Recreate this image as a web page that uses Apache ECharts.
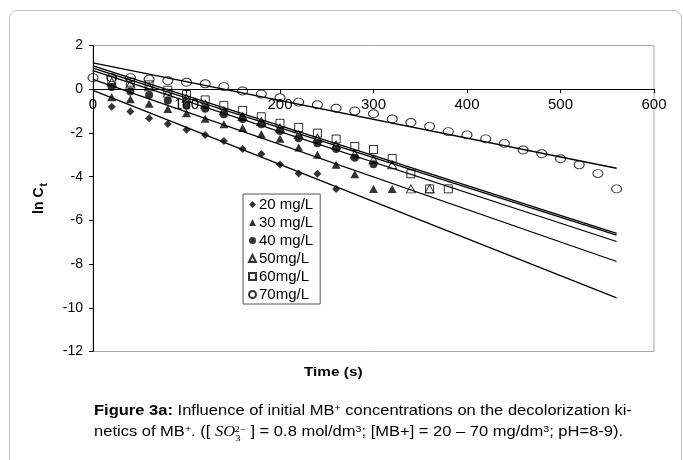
<!DOCTYPE html>
<html>
<head>
<meta charset="utf-8">
<script src="https://cdn.jsdelivr.net/npm/echarts@6/dist/echarts.min.js"></script>
<style>html,body{margin:0;padding:0;background:#fff;}#c{width:683px;height:460px;}</style>
</head>
<body>
<div id="c"></div>
<script>
// Time points (s)
const times = [0,20,40,60,80,100,120,140,160,180,200,220,240,260,280,300,320,340,360,380,400,420,440,460,480,500,520,540,560];
const xTicks = [0,100,200,300,400,500,600];
const yTicks = [-12,-10,-8,-6,-4,-2,0,2];

const seriesNames = ['20 mg/L','30 mg/L','40 mg/L','50mg/L','60mg/L','70mg/L'];
// ln Ct values, starting at t = 20 s (70 mg/L starts at t = 0)
const ln20 = [-0.80,-1.02,-1.33,-1.59,-1.86,-2.10,-2.37,-2.73,-2.96,-3.44,-3.86,-3.87,-4.56];
const ln30 = [-0.37,-0.46,-0.67,-0.91,-1.10,-1.35,-1.60,-1.78,-2.06,-2.27,-2.67,-3.00,-3.46,-3.89,-4.57,-4.57];
const ln40 = [0.10,-0.11,-0.26,-0.52,-0.76,-0.89,-1.14,-1.36,-1.60,-1.91,-2.24,-2.47,-2.73,-3.13,-3.43];
const ln50 = [0.33,0.24,0.11,-0.18,-0.41,-0.69,-0.99,-1.25,-1.48,-1.78,-2.09,-2.24,-2.55,-2.97,-3.23,-3.46,-4.56,-4.56];
const ln60 = [0.42,0.32,0.20,-0.05,-0.24,-0.49,-0.74,-0.97,-1.26,-1.56,-1.75,-2.01,-2.28,-2.62,-2.76,-3.17,-3.87,-4.56,-4.56];
const ln70 = [0.53,0.53,0.53,0.46,0.39,0.32,0.25,0.12,-0.08,-0.22,-0.39,-0.59,-0.71,-0.87,-1.00,-1.12,-1.36,-1.52,-1.70,-1.94,-2.09,-2.27,-2.48,-2.78,-2.95,-3.18,-3.46,-3.86,-4.56];
const startTimes = [20,20,20,20,20,0];

// Linear fit lines (intercept, slope), drawn over 0..560 s
const fitIntercepts = [-0.05,0.45,0.85,0.96,1.07,1.20];
const fitSlopes = [-0.01696,-0.01488,-0.01396,-0.01364,-0.01368,-0.0086];
const fitRange = [0,560];

const symbols = ['diamond','triangle','circle','triangle','rect','circle'];
const filled = [true,true,true,false,false,false];
const symSizes = [[8,8],[9,8],[8,8],[9,8],[8,8],[10,8]];

const allValues = [ln20,ln30,ln40,ln50,ln60,ln70];

function pairs(vals, t0){
  const i0 = times.indexOf(t0);
  return vals.map((v,i)=>[times[i0+i], v]);
}

const series = [];
for(let k=0;k<6;k++){
  series.push({
    type:'line', name:'fit'+k, silent:true, z:1,
    data: fitRange.map(t=>[t, fitIntercepts[k] + fitSlopes[k]*t]),
    showSymbol:false, symbol:'none',
    lineStyle:{color:'#000', width:1.3},
    animation:false
  });
}
for(let k=0;k<6;k++){
  series.push({
    type:'scatter', name:seriesNames[k], z:3,
    data: pairs(allValues[k], startTimes[k]),
    symbol: symbols[k], symbolSize: symSizes[k],
    itemStyle: filled[k] ? {color:'#000'} : {color:'rgba(255,255,255,0)', borderColor:'#000', borderWidth:1},
    animation:false
  });
}

const GRID = {left:93, top:45.5, width:561, height:306};
const yMin = yTicks[0], yMax = yTicks[yTicks.length-1];
// place the x axis where y = 0 (axis crosses at zero)
const xAxisOffset = -(0 - yMin) / (yMax - yMin) * GRID.height;

const chart = echarts.init(document.getElementById('c'), null, {renderer:'canvas'});
const FONT = 'Liberation Sans, Arial, sans-serif';
chart.setOption({
  backgroundColor:'#fff',
  animation:false,
  textStyle:{fontFamily:FONT},
  grid:Object.assign({show:true, borderColor:'#a8a8a8', borderWidth:1}, GRID),
  xAxis:{
    type:'value', min:xTicks[0], max:xTicks[xTicks.length-1], interval:100,
    position:'bottom', offset:xAxisOffset,
    axisLine:{onZero:false, lineStyle:{color:'#000', width:1}},
    axisTick:{show:true, length:4, lineStyle:{color:'#000'}},
    axisLabel:{color:'#000', fontSize:15, fontFamily:FONT, margin:8},
    splitLine:{show:false}
  },
  yAxis:{
    type:'value', min:yMin, max:yMax, interval:2,
    axisLine:{show:true, onZero:false, lineStyle:{color:'#000', width:1}},
    axisTick:{show:true, length:4, lineStyle:{color:'#000'}},
    axisLabel:{color:'#000', fontSize:14, fontFamily:FONT, margin:10},
    splitLine:{show:false},
    name:'{a|ln C}{b|t}', nameLocation:'middle', nameGap:44,
    nameTextStyle:{
      rich:{
        a:{fontSize:14, fontWeight:'bold', color:'#000', fontFamily:FONT, lineHeight:20},
        b:{fontSize:10, fontWeight:'bold', color:'#000', fontFamily:FONT, verticalAlign:'bottom', lineHeight:20, padding:[0,0,0,1]}
      }
    }
  },
  legend:{
    orient:'vertical', left:243, top:194,
    data:seriesNames,
    itemWidth:7, itemHeight:7, itemGap:3,
    padding:[3,7,2,5],
    borderColor:'#555', borderWidth:1, backgroundColor:'#fff',
    textStyle:{fontSize:15, color:'#000', fontFamily:FONT, padding:[0,0,0,-2]}
  },
  graphic:[
    {type:'rect', shape:{x:9.5, y:10.5, width:672, height:480, r:8}, style:{fill:'none', stroke:'#c0c0c0', lineWidth:1}, z:0, silent:true},
    {type:'text', x:304, y:366, scaleX:1.18, style:{text:'Time (s)', font:'bold 13px Liberation Sans, Arial, sans-serif', fill:'#000'}},
    {type:'text', x:94, y:401, scaleX:1.18, style:{
      text:'{b|Figure 3a:}{n| Influence of initial MB}{sup|+}{n| concentrations on the decolorization ki-}\n{n|netics of MB}{sup|+}{n|. ([ }{it|SO}{sub|3}{sup2|2−}{n| ] = 0.8 mol/dm}{sup|3}{n|; [MB+] = 20 – 70 mg/dm}{sup|3}{n|; pH=8-9).}',
      rich:{
        b:{font:'bold 14px Liberation Sans, Arial, sans-serif', fill:'#000', lineHeight:21},
        n:{font:'14px Liberation Sans, Arial, sans-serif', fill:'#000', lineHeight:21},
        sup:{font:'9px Liberation Sans, Arial, sans-serif', fill:'#000', lineHeight:21, verticalAlign:'top', padding:[3,0,0,0]},
        it:{font:'italic 14px Liberation Serif, Times New Roman, serif', fill:'#000', lineHeight:21},
        sub:{font:'9px Liberation Serif, serif', fill:'#000', lineHeight:21, verticalAlign:'bottom'},
        sup2:{font:'9px Liberation Serif, serif', fill:'#000', lineHeight:21, verticalAlign:'top', padding:[3,0,0,-5]}
      }
    }}
  ],
  series: series
});
</script>
</body>
</html>
